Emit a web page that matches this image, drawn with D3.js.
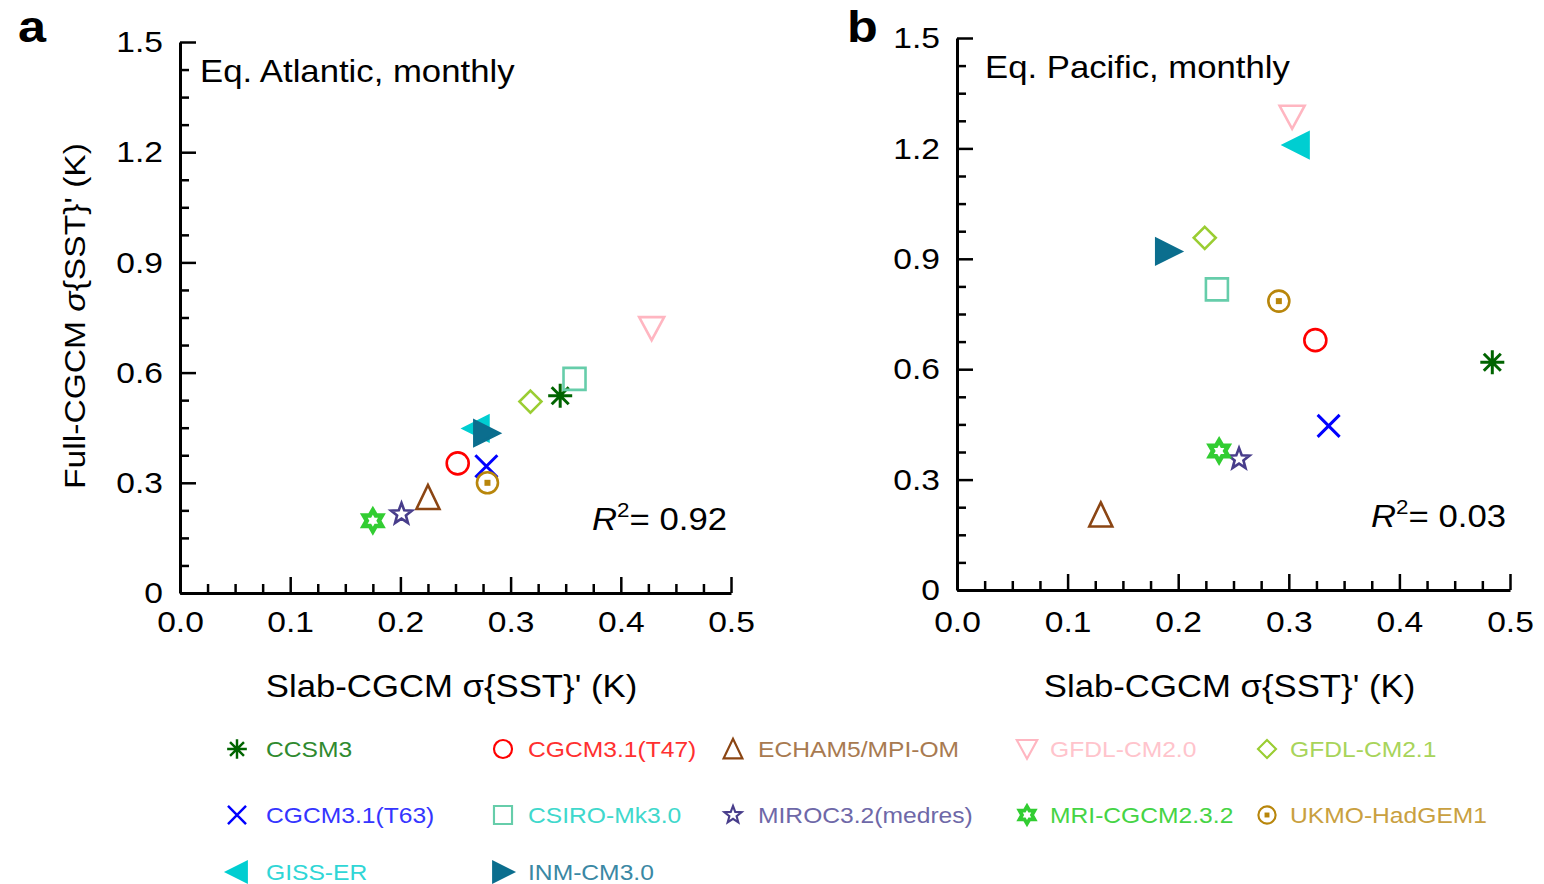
<!DOCTYPE html>
<html>
<head>
<meta charset="utf-8">
<script src="https://cdn.jsdelivr.net/npm/d3@7"></script>
<style>
  html, body { margin: 0; padding: 0; background: #fff; }
  svg { display: block; }
  text { font-family: "Liberation Sans", Arial, Helvetica, sans-serif; }
</style>
</head>
<body>
<svg id="chart" width="1544" height="884"></svg>
<script>
// ---------------- DATA ----------------
const models = ["CCSM3", "CGCM3.1(T47)", "ECHAM5/MPI-OM", "GFDL-CM2.0", "GFDL-CM2.1",
                "CGCM3.1(T63)", "CSIRO-Mk3.0", "MIROC3.2(medres)", "MRI-CGCM2.3.2", "UKMO-HadGEM1",
                "GISS-ER", "INM-CM3.0"];
const modelColors = ["#006400", "#ff0000", "#8b4513", "#ffb6c1", "#9acd32",
                     "#0000ff", "#66cdaa", "#483d8b", "#32cd32", "#b8860b",
                     "#00ced1", "#0b6e8e"];
const legendTextColors = ["#2f8a2f", "#ff3030", "#a87a50", "#ffc4cc", "#a8d45a",
                          "#3535ff", "#40d8cc", "#6e68a8", "#45d445", "#c9a040",
                          "#30d6d6", "#3a88a4"];
const modelShapes = ["asterisk", "circle", "triangleUp", "triangleDown", "diamond",
                     "x", "square", "pentagram", "hexagram", "circleDot",
                     "triangleLeft", "triangleRight"];

// Panel a: Eq. Atlantic, monthly
const atlanticSlab = [0.345, 0.252, 0.225, 0.428, 0.318, 0.278, 0.358, 0.201, 0.175, 0.279, 0.269, 0.278];
const atlanticFull = [0.537, 0.353, 0.260, 0.721, 0.521, 0.345, 0.583, 0.215, 0.197, 0.300, 0.448, 0.435];
// Panel b: Eq. Pacific, monthly
const pacificSlab = [0.484, 0.324, 0.130, 0.303, 0.224, 0.336, 0.235, 0.255, 0.237, 0.291, 0.307, 0.191];
const pacificFull = [0.619, 0.679, 0.204, 1.286, 0.957, 0.446, 0.817, 0.356, 0.378, 0.785, 1.209, 0.920];

const xMajorTicks = [0.0, 0.1, 0.2, 0.3, 0.4, 0.5];
const yMajorTicks = [0, 0.3, 0.6, 0.9, 1.2, 1.5];
const xMinorStep = 0.025;
const yMinorStep = 0.075;
const rSquared = ["0.92", "0.03"];
const panelTitles = ["Eq. Atlantic, monthly", "Eq. Pacific, monthly"];
const panelLetters = ["a", "b"];

// ---------------- HELPERS ----------------
const K = 1.12; // horizontal stretch of the reference typography
const svg = d3.select("#chart");

function markerPath(shape, s) {
  const p = d3.path();
  if (shape === "circle" || shape === "circleDot") {
    const rr = (shape === "circle" ? 11 : 10.5) * s;
    p.moveTo(rr, 0); p.arc(0, 0, rr, 0, 2 * Math.PI); p.closePath();
  } else if (shape === "triangleUp") {
    p.moveTo(0, -12.5 * s); p.lineTo(11.5 * s, 11.5 * s); p.lineTo(-11.5 * s, 11.5 * s); p.closePath();
  } else if (shape === "triangleDown") {
    p.moveTo(-12.5 * s, -11 * s); p.lineTo(12.5 * s, -11 * s); p.lineTo(0, 12 * s); p.closePath();
  } else if (shape === "triangleLeft") {
    p.moveTo(12 * s, -12.5 * s); p.lineTo(12 * s, 12.5 * s); p.lineTo(-13 * s, 0); p.closePath();
  } else if (shape === "triangleRight") {
    p.moveTo(-12 * s, -12.5 * s); p.lineTo(-12 * s, 12.5 * s); p.lineTo(13 * s, 0); p.closePath();
  } else if (shape === "diamond") {
    const d = 11 * s;
    p.moveTo(0, -d); p.lineTo(d, 0); p.lineTo(0, d); p.lineTo(-d, 0); p.closePath();
  } else if (shape === "square") {
    const h = 11 * s;
    p.rect(-h, -h, 2 * h, 2 * h);
  } else if (shape === "x") {
    const h = 11 * s;
    p.moveTo(-h, -h); p.lineTo(h, h); p.moveTo(h, -h); p.lineTo(-h, h);
  } else if (shape === "asterisk") {
    const h = 12 * s, dd = 8.5 * s;
    p.moveTo(0, -h); p.lineTo(0, h);
    p.moveTo(-h, 0); p.lineTo(h, 0);
    p.moveTo(-dd, -dd); p.lineTo(dd, dd);
    p.moveTo(dd, -dd); p.lineTo(-dd, dd);
  } else if (shape === "pentagram") {
    const ro = 11 * s, ri = ro * 0.42;
    for (let i = 0; i < 10; i++) {
      const a = -Math.PI / 2 + i * Math.PI / 5;
      const rad = i % 2 === 0 ? ro : ri;
      const px = rad * Math.cos(a), py = rad * Math.sin(a);
      if (i === 0) p.moveTo(px, py); else p.lineTo(px, py);
    }
    p.closePath();
  } else if (shape === "hexagram") {
    const ro = 10.5 * s, ri = ro / Math.sqrt(3);
    for (let i = 0; i < 12; i++) {
      const a = -Math.PI / 2 + i * Math.PI / 6;
      const rad = i % 2 === 0 ? ro : ri;
      const px = rad * Math.cos(a), py = rad * Math.sin(a);
      if (i === 0) p.moveTo(px, py); else p.lineTo(px, py);
    }
    p.closePath();
  }
  return p.toString();
}

function drawMarker(g, shape, color, s) {
  const filled = (shape === "triangleLeft" || shape === "triangleRight");
  g.append("path")
    .attr("d", markerPath(shape, s))
    .attr("fill", filled ? color : "none")
    .attr("stroke", color)
    .attr("stroke-width", shape === "hexagram" ? 4.5 * s : (shape === "asterisk" || shape === "x" ? 3 * s : 2.6 * s))
    .attr("stroke-linejoin", "miter");
  if (shape === "circleDot") {
    g.append("rect").attr("x", -3 * s).attr("y", -3 * s).attr("width", 6 * s).attr("height", 6 * s)
      .attr("fill", color);
  }
}

function addText(parent, x, y, opts = {}) {
  const g = parent.append("g")
    .attr("transform", `translate(${x},${y}) ${opts.rotate ? "rotate(" + opts.rotate + ")" : ""} scale(${K},1)`);
  return g.append("text")
    .attr("x", 0).attr("y", 0)
    .attr("font-size", opts.size || 30)
    .attr("fill", opts.color || "#000")
    .attr("font-weight", opts.weight || "normal")
    .attr("text-anchor", opts.anchor || "start");
}

// ---------------- PANELS ----------------
const panels = [
  { left: 180, top: 42, w: 551, h: 551, slab: atlanticSlab, full: atlanticFull, xPad: 18 },
  { left: 957, top: 38, w: 553, h: 552, slab: pacificSlab, full: pacificFull, xPad: 21 }
];

panels.forEach((P, pi) => {
  const x = d3.scaleLinear().domain([0, 0.5]).range([P.left, P.left + P.w]);
  const y = d3.scaleLinear().domain([0, 1.5]).range([P.top + P.h, P.top]);
  const g = svg.append("g");

  const xMinor = d3.range(0, 0.5 + 1e-9, xMinorStep).filter(v => Math.abs(v / 0.1 - Math.round(v / 0.1)) > 1e-6);
  const yMinor = d3.range(0, 1.5 + 1e-9, yMinorStep).filter(v => Math.abs(v / 0.3 - Math.round(v / 0.3)) > 1e-6);

  // minor ticks
  g.append("g").attr("transform", `translate(0,${P.top + P.h})`)
    .call(d3.axisBottom(x).tickValues(xMinor).tickSizeInner(-9).tickSizeOuter(0).tickFormat(""))
    .call(s => s.select(".domain").remove())
    .call(s => s.selectAll(".tick line").attr("stroke", "#000").attr("stroke-width", 2.5));
  g.append("g").attr("transform", `translate(${P.left},0)`)
    .call(d3.axisLeft(y).tickValues(yMinor).tickSizeInner(-9).tickSizeOuter(0).tickFormat(""))
    .call(s => s.select(".domain").remove())
    .call(s => s.selectAll(".tick line").attr("stroke", "#000").attr("stroke-width", 2.5));

  // major ticks + labels
  g.append("g").attr("transform", `translate(0,${P.top + P.h})`)
    .call(d3.axisBottom(x).tickValues(xMajorTicks).tickSizeInner(-16).tickSizeOuter(0)
      .tickPadding(P.xPad).tickFormat(d3.format(".1f")))
    .call(s => s.select(".domain").attr("stroke", "#000").attr("stroke-width", 3))
    .call(s => s.selectAll(".tick line").attr("stroke", "#000").attr("stroke-width", 2.5))
    .call(s => s.selectAll(".tick text")
      .attr("font-size", 30).attr("fill", "#000")
      .attr("font-family", '"Liberation Sans", Arial, sans-serif')
      .attr("transform", `scale(${K},1)`));
  g.append("g").attr("transform", `translate(${P.left},0)`)
    .call(d3.axisLeft(y).tickValues(yMajorTicks).tickSizeInner(-16).tickSizeOuter(0)
      .tickPadding(17).tickFormat(d => d === 0 ? "0" : d3.format(".1f")(d)))
    .call(s => s.select(".domain").attr("stroke", "#000").attr("stroke-width", 3))
    .call(s => s.selectAll(".tick line").attr("stroke", "#000").attr("stroke-width", 2.5))
    .call(s => s.selectAll(".tick text")
      .attr("font-size", 30).attr("fill", "#000")
      .attr("font-family", '"Liberation Sans", Arial, sans-serif')
      .attr("x", -17 / K)
      .attr("transform", `scale(${K},1)`));

  // Title inside panel
  addText(g, P.left + 20 + (pi === 1 ? 8 : 0), P.top + 40, { size: 31 }).text(panelTitles[pi]);

  // Panel letter
  addText(g, pi === 0 ? 18 : 847, 42, { size: 45, weight: "bold" }).text(panelLetters[pi]);

  // x-axis label
  addText(g, P.left + P.w / 2 - 4, 697, { size: 31, anchor: "middle" })
    .text("Slab-CGCM \u03c3{SST}' (K)");

  // R^2
  const rt = addText(g, P.left + P.w - 4, P.top + P.h - 63, { size: 31, anchor: "end" });
  rt.append("tspan").attr("font-style", "italic").text("R");
  rt.append("tspan").attr("font-size", 20).attr("dy", -13).text("2");
  rt.append("tspan").attr("dy", 13).text("= " + rSquared[pi]);

  // markers
  models.forEach((m, i) => {
    const mg = g.append("g").attr("transform", `translate(${x(P.slab[i])},${y(P.full[i])})`);
    drawMarker(mg, modelShapes[i], modelColors[i], 1);
  });
});

// y-axis label (panel a only)
{
  const t = addText(svg, 85, 316, { size: 30, anchor: "middle", rotate: -90 });
  t.append("tspan").text("Full-CGCM ");
  t.append("tspan").attr("font-style", "italic").text("\u03c3");
  t.append("tspan").text("{SST}' (K)");
}

// ---------------- LEGEND ----------------
const legendMarkerX = [237, 503, 733, 1027, 1267];
const legendTextX = [266, 528, 758, 1050, 1290];
const legendRowY = [749, 815, 872];
models.forEach((m, i) => {
  const col = i % 5, row = Math.floor(i / 5);
  const mg = svg.append("g").attr("transform", `translate(${legendMarkerX[col]},${legendRowY[row]})`);
  drawMarker(mg, modelShapes[i], modelColors[i], 0.82);
  addText(svg, legendTextX[col], legendRowY[row] + 8, { size: 22, color: legendTextColors[i] }).text(m);
});
</script>
</body>
</html>
